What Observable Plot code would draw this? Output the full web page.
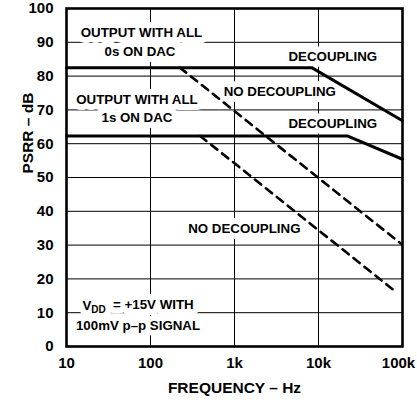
<!DOCTYPE html>
<html>
<head>
<meta charset="utf-8">
<script src="https://cdn.jsdelivr.net/npm/d3@7"></script>
<script src="https://cdn.jsdelivr.net/npm/@observablehq/plot@0.6"></script>
<style>
  html, body { margin: 0; padding: 0; background: #fff; }
  #chart { width: 417px; height: 400px; overflow: hidden; }
</style>
</head>
<body>
<div id="chart"></div>
<script>
// ---- axis ticks ----
const decades = [10, 100, 1000, 10000, 100000];
const decadeLabels = ["10", "100", "1k", "10k", "100k"];
const yTicks = [0, 10, 20, 30, 40, 50, 60, 70, 80, 90, 100];
const xGrid = [100, 1000, 10000];
const yGrid = [10, 20, 30, 40, 50, 60, 70, 80, 90];

// ---- series (frequency in Hz, PSRR in dB) ----
const dec0Freq = [10, 8300, 100000];     // decoupling, all 0s on DAC
const dec0Db   = [82.5, 82.5, 66.8];
const dec1Freq = [10, 22000, 100000];    // decoupling, all 1s on DAC
const dec1Db   = [62.3, 62.3, 55.4];
const nodec0Freq = [224, 95000];         // no decoupling, all 0s
const nodec0Db   = [82.5, 30.5];
const nodec1Freq = [390, 83000];         // no decoupling, all 1s
const nodec1Db   = [62.3, 16.2];

// ---- annotations ----
const noteText = ["OUTPUT WITH ALL", "0s ON DAC", "OUTPUT WITH ALL", "1s ON DAC",
                  "DECOUPLING", "NO DECOUPLING", "DECOUPLING", "NO DECOUPLING",
                  "VDD = +15V WITH", "100mV p\u2013p SIGNAL"];
const noteFreq = [78, 75, 69, 69, 14800, 3460, 14800, 1310, 71, 71];
const noteDb   = [92.9, 87.1, 73.1, 67.7, 85.6, 75.4, 65.9, 34.9, 12.1, 6.2];

const toRows = (f, v) => f.map((x, i) => ({f: x, v: v[i]}));
const notes = noteText.map((t, i) => ({t, f: noteFreq[i], v: noteDb[i]}));
const labelOf = new Map(decades.map((d, i) => [d, decadeLabels[i]]));
const lastDecade = decades[decades.length - 1];

const plot = Plot.plot({
  width: 417,
  height: 400,
  marginLeft: 66,
  marginRight: 15,
  marginTop: 8,
  marginBottom: 54,
  style: {fontFamily: "'Liberation Sans', Arial, Helvetica, sans-serif", fontWeight: "bold", background: "#fff", color: "#000", overflow: "visible"},
  x: {type: "log", domain: [10, 100000]},
  y: {domain: [0, 100]},
  marks: [
    Plot.gridX(xGrid, {stroke: "#000", strokeOpacity: 1, strokeWidth: 1}),
    Plot.gridY(yGrid, {stroke: "#000", strokeOpacity: 1, strokeWidth: 1}),
    // white halo behind annotation texts (hides grid lines like the label boxes)
    Plot.text(notes, {x: "f", y: "v", text: "t", fontSize: 13.3, fontWeight: "bold", fill: "#fff",
                      stroke: "#fff", strokeWidth: 12, className: "halo"}),
    Plot.text(notes, {x: "f", y: "v", text: "t", fontSize: 13.3, fontWeight: "bold", fill: "#000"}),
    Plot.line(toRows(dec0Freq, dec0Db), {x: "f", y: "v", stroke: "#000", strokeWidth: 3}),
    Plot.line(toRows(dec1Freq, dec1Db), {x: "f", y: "v", stroke: "#000", strokeWidth: 3}),
    Plot.line(toRows(nodec0Freq, nodec0Db), {x: "f", y: "v", stroke: "#000", strokeWidth: 2.6, strokeDasharray: "8,6"}),
    Plot.line(toRows(nodec1Freq, nodec1Db), {x: "f", y: "v", stroke: "#000", strokeWidth: 2.6, strokeDasharray: "8,6"}),
    Plot.frame({stroke: "#000", strokeWidth: 2.6}),
    Plot.axisX({ticks: decades.slice(0, -1), tickFormat: d => labelOf.get(d), tickSize: 0, tickPadding: 11, fontSize: 15, label: null}),
    Plot.axisX({ticks: [lastDecade], tickFormat: d => labelOf.get(d), tickSize: 0, tickPadding: 11, fontSize: 15, dx: -4, label: null}),
    Plot.axisY({ticks: yTicks, tickFormat: d => String(d), tickSize: 0, tickPadding: 13, fontSize: 15, label: null}),
    Plot.text(["FREQUENCY \u2013 Hz"], {frameAnchor: "bottom", dy: 46, fontSize: 15.5, fontWeight: "bold"}),
    Plot.text(["PSRR \u2013 dB"], {frameAnchor: "left", dx: -38, dy: -4, rotate: -90, fontSize: 15.5, fontWeight: "bold"})
  ]
});

// subscript "DD" in V_DD
d3.select(plot).selectAll("text").filter(function () { return this.textContent === "VDD = +15V WITH"; })
  .each(function () {
    const t = d3.select(this);
    t.text(null);
    t.append("tspan").text("V");
    t.append("tspan").attr("font-size", 10).attr("dy", "0.35em").text("DD");
    t.append("tspan").attr("dy", "-0.35em").text("\u00a0 = +15V WITH");
  });

document.getElementById("chart").appendChild(plot);
</script>
</body>
</html>
